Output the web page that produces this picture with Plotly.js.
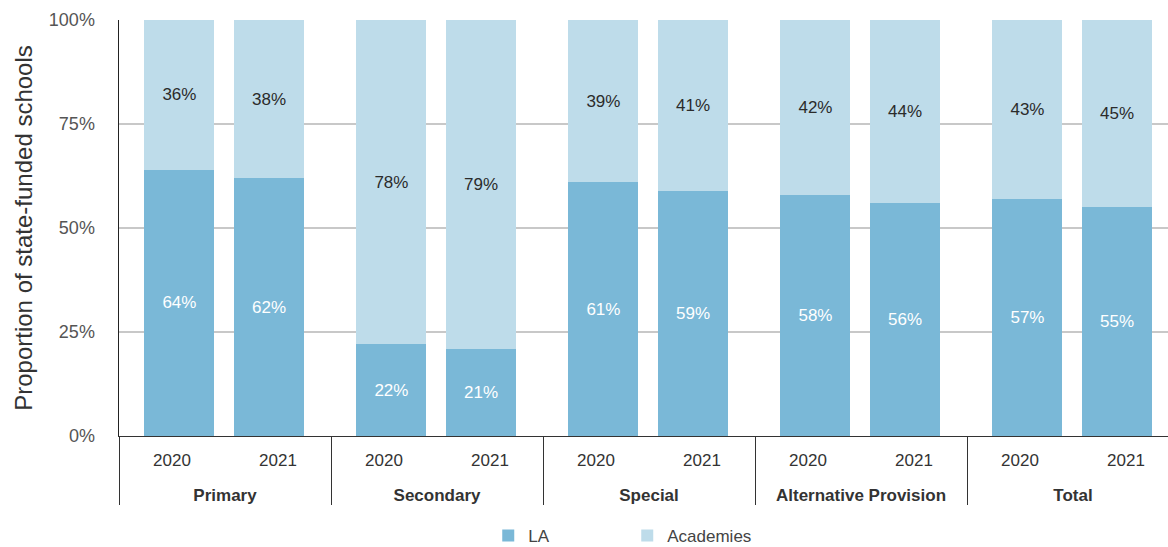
<!DOCTYPE html>
<html>
<head>
<meta charset="utf-8">
<script src="https://cdn.plot.ly/plotly-3.0.1.min.js"></script>
<style>html,body{margin:0;padding:0;background:#fff;}#chart{width:1168px;height:547px;}</style>
</head>
<body>
<div id="chart"></div>
<script>
const groups = ["Primary","Primary","Secondary","Secondary","Special","Special","Alternative Provision","Alternative Provision","Total","Total"];
const years = ["2020","2021","2020","2021","2020","2021","2020","2021","2020","2021"];
const laValues = [64,62,22,21,61,59,58,56,57,55];
const academyValues = [36,38,78,79,39,41,42,44,43,45];
const yTickVals = [0,25,50,75,100];
const yTickText = ["0%","25%","50%","75%","100%"];

const FONT = "Liberation Sans, Arial, Helvetica, sans-serif";
const groupLabels = groups.map(g => "<br><b>" + g + "</b>");
const barOffsets = years.map(y => y === "2020" ? -0.26 : -0.415);

const common = {
  type: "bar",
  x: [groupLabels, years],
  width: 0.66,
  offset: barOffsets,
  texttemplate: "%{y}%",
  textposition: "inside",
  insidetextanchor: "middle",
  constraintext: "none",
  hoverinfo: "skip"
};

const traces = [
  Object.assign({}, common, {
    name: "LA",
    y: laValues,
    marker: {color: "#7ab8d7"},
    insidetextfont: {family: FONT, size: 17, color: "#ffffff"}
  }),
  Object.assign({}, common, {
    name: "Academies",
    y: academyValues,
    marker: {color: "#bedcea"},
    insidetextfont: {family: FONT, size: 17, color: "#2b2b2b"}
  })
];

const layout = {
  width: 1168, height: 547,
  margin: {l: 119, r: 0, t: 20, b: 111},
  barmode: "stack",
  paper_bgcolor: "#ffffff",
  plot_bgcolor: "#ffffff",
  font: {family: FONT, size: 17, color: "#333"},
  showlegend: true,
  legend: {
    orientation: "h",
    x: 0.352, xanchor: "left",
    y: 0.02, yref: "container", yanchor: "middle",
    entrywidth: 94,
    font: {family: FONT, size: 17, color: "#444"},
    traceorder: "normal"
  },
  xaxis: {
    type: "multicategory",
    automargin: false,
    range: [-0.5, 9.396],
    showline: true, linecolor: "#333", linewidth: 1,
    ticks: "",
    ticklabelstandoff: 9,
    showdividers: true, dividercolor: "#333", dividerwidth: 1,
    tickfont: {family: FONT, size: 17, color: "#333"},
    showgrid: false
  },
  yaxis: {
    automargin: false,
    range: [0, 100],
    tickvals: yTickVals,
    ticktext: yTickText,
    showgrid: true, gridcolor: "#c8c8c8", gridwidth: 1.5,
    zeroline: false,
    showline: true, linecolor: "#222", linewidth: 1.5,
    ticks: "",
    ticklabelstandoff: 19,
    tickfont: {family: FONT, size: 18, color: "#555"},
    title: {text: "Proportion of state-funded schools", font: {family: FONT, size: 24, color: "#333"}, standoff: 9}
  }
};

Plotly.newPlot("chart", traces, layout, {displayModeBar: false, staticPlot: true});
</script>
</body>
</html>
